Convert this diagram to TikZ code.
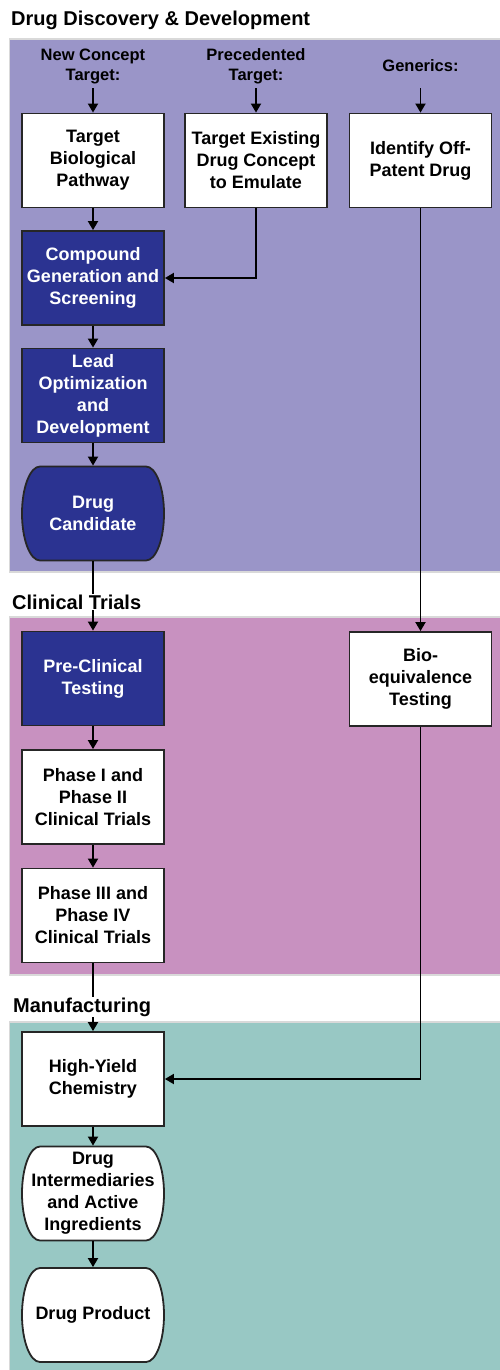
\documentclass[tikz,border=0pt]{standalone}
\usepackage{fontspec}
\setmainfont{Liberation Sans}
\usetikzlibrary{arrows.meta}
\definecolor{discov}{HTML}{9A95C8}
\definecolor{clinic}{HTML}{C891C0}
\definecolor{manuf}{HTML}{98C8C4}
\definecolor{darkstep}{HTML}{2B3391}
% rounded terminal shape behind a node: x, y, fill
\newcommand\pillbg[3]{\filldraw[fill=#3,draw=black!85,line width=1.8pt,shift={(#1,#2)}]
	(-53,-47) -- (53,-47) arc[start angle=-90,end angle=90,x radius=18,y radius=47]
	-- (-53,47) arc[start angle=90,end angle=270,x radius=18,y radius=47] -- cycle;}

\begin{document}
\begin{tikzpicture}[x=1pt,y=-1pt,>={Triangle[width=10pt,length=9pt]},
	box/.style={draw=black!85,line width=1.8pt,fill=white,minimum width=142pt,minimum height=94pt,inner sep=0pt,align=center,font=\fontsize{18}{22}\selectfont\bfseries},
	dark/.style={box,fill=darkstep,text=white},
	pill/.style={box,draw=none,fill=none},
	lbl/.style={align=center,inner sep=0pt,minimum height=44pt,font=\fontsize{16.5}{20}\selectfont\bfseries},
	sect/.style={anchor=base west,inner sep=1pt,font=\fontsize{20}{24}\selectfont\bfseries},
	panel/.style={draw=black!15,line width=1.2pt},
	flow/.style={line width=1.8pt,->}]
	\useasboundingbox (0,0) rectangle (500,1370);
	% panels
	\fill[discov,panel] (9.5,39) rectangle (501,572);
	\fill[clinic,panel] (9.5,617) rectangle (501,975);
	\fill[manuf,panel] (9.5,1022) rectangle (501,1371);
	\node[sect] (title) at (10,26) {Drug Discovery \& Development};
	% discovery
	\node[lbl] (lblA) at (93,66) {New Concept\\Target:};
	\node[lbl] (lblB) at (256,66) {Precedented\\Target:};
	\node[lbl] (lblC) at (420.5,66) {Generics:};
	\node[box] (target) at (93,160.5) {Target\\Biological\\Pathway};
	\node[box] (exist) at (256,160.5) {Target Existing\\Drug Concept\\to Emulate};
	\node[box] (offpat) at (420.5,160.5) {Identify Off-\\Patent Drug};
	\node[dark] (compound) at (93,278) {Compound\\Generation and\\Screening};
	\node[dark] (lead) at (93,395.5) {Lead\\Optimization\\and\\Development};
	\pillbg{93}{513.5}{darkstep}
	\node[pill,text=white] (cand) at (93,513.5) {Drug\\Candidate};
	% clinical
	\node[dark] (preclin) at (93,678.5) {Pre-Clinical\\Testing};
	\node[box] (bioeq) at (420.5,679) {Bio-\\equivalence\\Testing};
	\node[box] (phase12) at (93,797) {Phase I and\\Phase II\\Clinical Trials};
	\node[box] (phase34) at (93,915.5) {Phase III and\\Phase IV\\Clinical Trials};
	% manufacturing
	\node[box] (hiyield) at (93,1079) {High-Yield\\Chemistry};
	\pillbg{93}{1193.5}{white}
	\node[pill] (interm) at (93,1193.5) {Drug\\Intermediaries\\and Active\\Ingredients};
	\pillbg{93}{1315}{white}
	\node[pill] (product) at (93,1315) {Drug Product};
	\draw[flow] (lblA) -- (target);
	\draw[flow] (lblB) -- (exist);
	\draw[flow] (lblC) -- (offpat);
	\draw[flow] (target) -- (compound);
	\draw[flow] (exist.south) |- (compound.east);
	\draw[flow] (offpat) -- (bioeq);
	\draw[flow] (compound) -- (lead);
	\draw[flow] (lead) -- (cand);
	\draw[flow] (cand) -- (preclin);
	\node[sect,fill=white] (clinlbl) at (11,609) {Clinical Trials};
	\draw[flow] (preclin) -- (phase12);
	\draw[flow] (phase12) -- (phase34);
	\draw[flow] (phase34) -- (hiyield);
	\node[sect,fill=white] (manulbl) at (12,1012) {Manufacturing};
	\draw[flow] (bioeq.south) |- (hiyield.east);
	\draw[flow] (hiyield) -- (interm);
	\draw[flow] (interm) -- (product);
\end{tikzpicture}
\end{document}
